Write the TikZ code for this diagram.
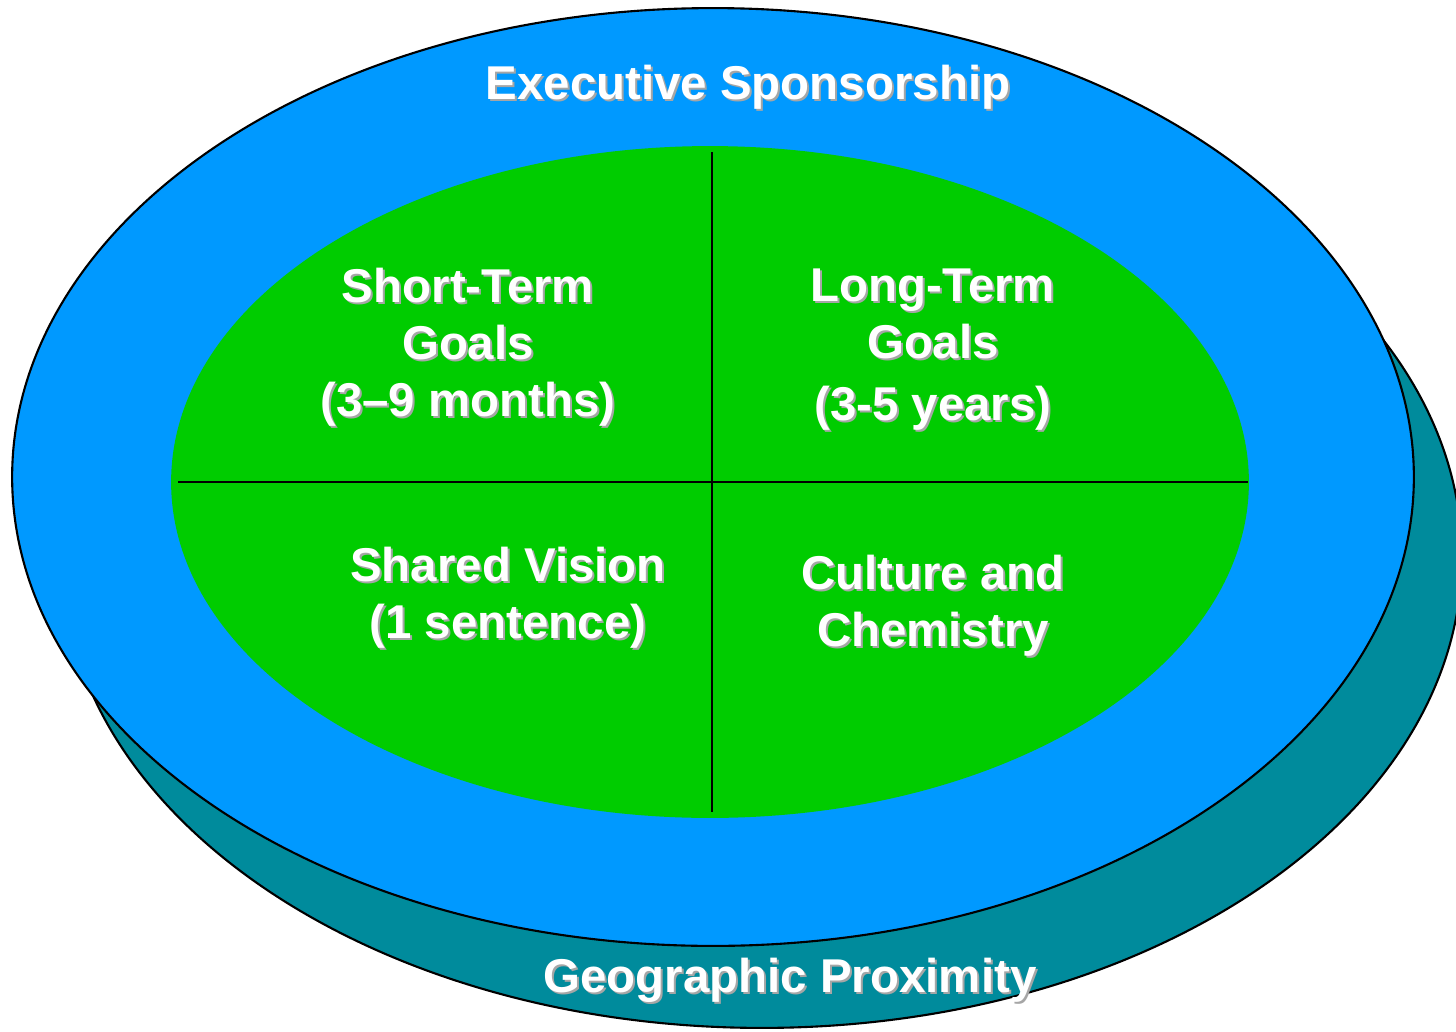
\documentclass[tikz,border=0pt]{standalone}
\usepackage{fontspec}
\setmainfont{Liberation Sans}
\usetikzlibrary{shapes.geometric}

\definecolor{skyblue}{HTML}{0099FF}
\definecolor{leafgreen}{HTML}{00CC00}
\definecolor{tealback}{HTML}{008B9C}

\tikzset{
    ring/.style={ellipse,draw=black,line width=1.2pt,inner sep=0pt},
    lbl/.style={text=white,font=\bfseries\fontsize{27}{32.4}\selectfont,align=center,inner sep=0pt},
    lblshade/.style={lbl,text=black!35,xshift=0.04cm,yshift=-0.04cm},
    divider/.style={line width=1.1pt},
}
% white text with a grey drop shadow
\newcommand{\shadelabel}[3]{%
    \node[lblshade] at #2 {#3};
    \node[lbl] (#1) at #2 {#3};}

\begin{document}
\begin{tikzpicture}[x=0.02cm,y=-0.02cm]
        \useasboundingbox (0,0) rectangle (1456,1031);

        \node[ring,fill=tealback,minimum width=28.0cm,minimum height=18.84cm] (proximity) at (762,557) {};
        \node[ring,fill=skyblue,minimum width=28.04cm,minimum height=18.76cm] (sponsor) at (713,477) {};
        \node[ring,draw=none,fill=leafgreen,minimum width=21.56cm,minimum height=13.44cm] (core) at (710,482) {};

        \coordinate (west) at (178,482);
        \coordinate (east) at (1248,482);
        \coordinate (north) at (712,152);
        \coordinate (south) at (712,812);

        \draw[divider] (west) -- (east);
        \draw[divider] (north) -- (south);

        \shadelabel{exec}{(748,87)}{Executive Sponsorship}
        \shadelabel{short}{(468,347)}{Short-Term\\Goals\\(3--9 months)}
        \shadelabel{long}{(933,350)}{Long-Term\\Goals\\[0.1cm](3-5 years)}
        \shadelabel{vision}{(508,598)}{Shared Vision\\(1 sentence)}
        \shadelabel{culture}{(933,606)}{Culture and\\Chemistry}
        \shadelabel{geo}{(790,980)}{Geographic Proximity}

    \end{tikzpicture}
\end{document}
